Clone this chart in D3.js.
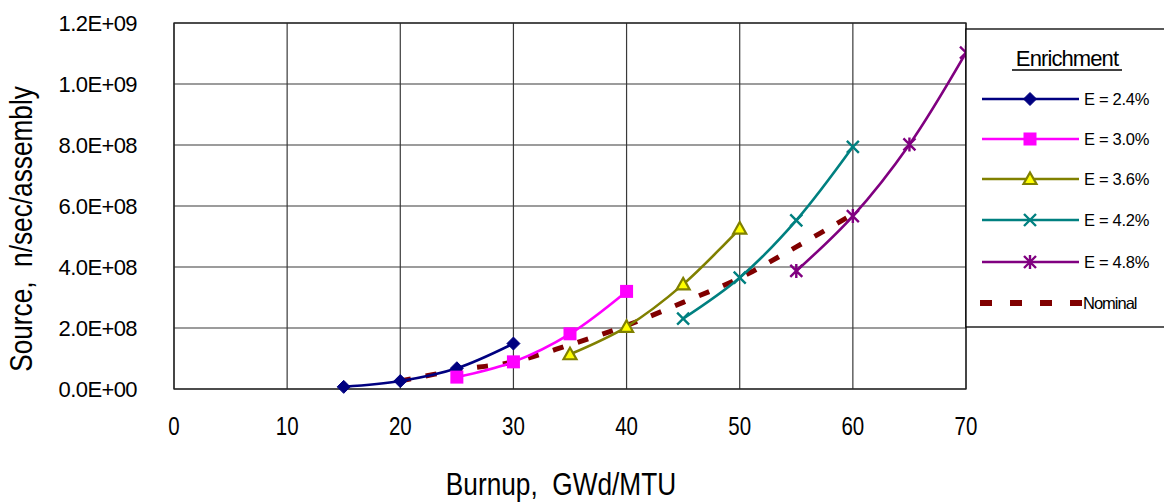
<!DOCTYPE html>
<html>
<head>
<meta charset="utf-8">
<script src="https://cdn.jsdelivr.net/npm/d3@7"></script>
<style>
  html, body { margin: 0; padding: 0; background: #fff; }
  svg { display: block; }
  text { font-family: "Liberation Sans", Arial, sans-serif; }
</style>
</head>
<body>
<svg id="chart" width="1164" height="502"></svg>
<script>
// Burnup (GWd/MTU) for each enrichment series
const burnup24 = [15, 20, 25, 30];
const burnup30 = [25, 30, 35, 40];
const burnup36 = [35, 40, 45, 50];
const burnup42 = [45, 50, 55, 60];
const burnup48 = [55, 60, 65, 70];
const burnupNominal = [20, 25, 30, 35, 40, 45, 50, 55, 60];

// Neutron source (n/sec/assembly)
const source24 = [7.0e6, 2.6e7, 6.8e7, 1.49e8];
const source30 = [3.9e7, 8.9e7, 1.81e8, 3.20e8];
const source36 = [1.14e8, 2.04e8, 3.43e8, 5.26e8];
const source42 = [2.31e8, 3.65e8, 5.53e8, 7.94e8];
const source48 = [3.87e8, 5.67e8, 8.02e8, 1.103e9];
const sourceNominal = [2.6e7, 6.2e7, 8.9e7, 1.45e8, 2.08e8, 2.84e8, 3.64e8, 4.66e8, 5.73e8];

const seriesNames = ["E = 2.4%", "E = 3.0%", "E = 3.6%", "E = 4.2%", "E = 4.8%", "Nominal"];
const xTicks = [0, 10, 20, 30, 40, 50, 60, 70];
const yTicks = [0, 2e8, 4e8, 6e8, 8e8, 1e9, 1.2e9];
const yTickLabels = ["0.0E+00", "2.0E+08", "4.0E+08", "6.0E+08", "8.0E+08", "1.0E+09", "1.2E+09"];

const series = [
  { name: seriesNames[0], xs: burnup24, ys: source24, color: "#000080", marker: "diamond" },
  { name: seriesNames[1], xs: burnup30, ys: source30, color: "#FF00FF", marker: "square" },
  { name: seriesNames[2], xs: burnup36, ys: source36, color: "#808000", marker: "triangle" },
  { name: seriesNames[3], xs: burnup42, ys: source42, color: "#008080", marker: "cross" },
  { name: seriesNames[4], xs: burnup48, ys: source48, color: "#800080", marker: "star" }
];
const nominal = { name: seriesNames[5], xs: burnupNominal, ys: sourceNominal, color: "#800000" };

const NARROW = 0.82; // horizontal squeeze giving a condensed face

const svg = d3.select("#chart");
const plot = { left: 174, right: 966, top: 23, bottom: 389 };

const x = d3.scaleLinear().domain([0, 70]).range([plot.left, plot.right]);
const y = d3.scaleLinear().domain([0, 1.2e9]).range([plot.bottom, plot.top]);

svg.append("defs").append("clipPath").attr("id", "plotClip")
  .append("rect")
  .attr("x", plot.left).attr("y", plot.top - 10)
  .attr("width", plot.right - plot.left).attr("height", plot.bottom - plot.top + 20);

// Gridlines
const grid = svg.append("g");
grid.selectAll("line.v").data(xTicks).join("line")
  .attr("x1", d => x(d)).attr("x2", d => x(d))
  .attr("y1", plot.top).attr("y2", plot.bottom)
  .attr("stroke", "#3a3a3a").attr("stroke-width", 1.2);
grid.selectAll("line.h").data(yTicks).join("line")
  .attr("x1", plot.left).attr("x2", plot.right)
  .attr("y1", d => y(d)).attr("y2", d => y(d))
  .attr("stroke", "#3a3a3a").attr("stroke-width", 1.2);
svg.append("rect")
  .attr("x", plot.left).attr("y", plot.top)
  .attr("width", plot.right - plot.left).attr("height", plot.bottom - plot.top)
  .attr("fill", "none").attr("stroke", "#222").attr("stroke-width", 1.3);

// Y axis labels (no tick marks)
const yAxis = d3.axisLeft(y).tickValues(yTicks)
  .tickFormat((d, i) => yTickLabels[i]).tickSize(0).tickPadding(0);
const gy = svg.append("g").attr("transform", `translate(137,0)`).call(yAxis);
gy.select(".domain").remove();
gy.selectAll("text").attr("font-size", 22).attr("font-family", null)
  .attr("letter-spacing", "-0.6px").attr("fill", "#000").attr("dy", "0.36em");

// X axis labels, condensed
const xAxis = d3.axisBottom(x).tickValues(xTicks).tickFormat(d3.format("d")).tickSize(0).tickPadding(0);
const gx = svg.append("g").call(xAxis);
gx.select(".domain").remove();
gx.selectAll(".tick").attr("transform", d => `translate(${x(d)},435) scale(${NARROW},1)`);
gx.selectAll("text").attr("font-size", 25).attr("font-family", null)
  .attr("fill", "#000").attr("y", 0).attr("dy", null);

// Axis titles
svg.append("g").attr("transform", `translate(561,495) scale(${NARROW},1)`)
  .append("text").attr("text-anchor", "middle")
  .attr("font-size", 32).attr("fill", "#000")
  .attr("xml:space", "preserve")
  .text("Burnup,  GWd/MTU");
svg.append("g").attr("transform", `translate(32,229) rotate(-90) scale(${NARROW},1)`)
  .append("text").attr("text-anchor", "middle")
  .attr("font-size", 32).attr("fill", "#000")
  .attr("xml:space", "preserve")
  .text("Source,  n/sec/assembly");

// Marker drawing
function drawMarker(g, type, color, cx, cy) {
  if (type === "diamond") {
    g.append("path").attr("d", `M${cx},${cy - 6.5}L${cx + 6.5},${cy}L${cx},${cy + 6.5}L${cx - 6.5},${cy}Z`)
      .attr("fill", color).attr("stroke", color).attr("stroke-width", 1);
  } else if (type === "square") {
    g.append("rect").attr("x", cx - 6.5).attr("y", cy - 6.5).attr("width", 13).attr("height", 13)
      .attr("fill", color);
  } else if (type === "triangle") {
    g.append("path").attr("d", `M${cx},${cy - 6.5}L${cx + 6.5},${cy + 5}L${cx - 6.5},${cy + 5}Z`)
      .attr("fill", "#FFFF00").attr("stroke", color).attr("stroke-width", 2.2).attr("stroke-linejoin", "miter");
  } else if (type === "cross") {
    g.append("path").attr("d", `M${cx - 6},${cy - 6}L${cx + 6},${cy + 6}M${cx - 6},${cy + 6}L${cx + 6},${cy - 6}`)
      .attr("stroke", color).attr("stroke-width", 2.4).attr("fill", "none");
  } else if (type === "star") {
    g.append("path").attr("d", `M${cx - 6},${cy - 6}L${cx + 6},${cy + 6}M${cx - 6},${cy + 6}L${cx + 6},${cy - 6}M${cx},${cy - 7}L${cx},${cy + 7}`)
      .attr("stroke", color).attr("stroke-width", 2.4).attr("fill", "none");
  }
}

const curve = d3.curveCatmullRom.alpha(0.5);
const lineGen = d3.line().x(d => x(d[0])).y(d => y(d[1])).curve(curve);

const plotLayer = svg.append("g").attr("clip-path", "url(#plotClip)");

// Nominal curve (dashed)
plotLayer.append("path")
  .attr("d", lineGen(nominal.xs.map((v, i) => [v, nominal.ys[i]])))
  .attr("fill", "none").attr("stroke", nominal.color).attr("stroke-width", 5)
  .attr("stroke-dasharray", "11,15");

// Enrichment series
series.forEach(s => {
  const pts = s.xs.map((v, i) => [v, s.ys[i]]);
  plotLayer.append("path").attr("d", lineGen(pts))
    .attr("fill", "none").attr("stroke", s.color).attr("stroke-width", 2.6);
  const mg = plotLayer.append("g");
  pts.forEach(p => drawMarker(mg, s.marker, s.color, x(p[0]), y(p[1])));
});

// Legend
const legend = svg.append("g");
legend.append("rect").attr("x", 966).attr("y", 29).attr("width", 240).attr("height", 298)
  .attr("fill", "#fff").attr("stroke", "#000").attr("stroke-width", 1.3);
legend.append("text")
  .attr("x", 1067).attr("y", 66).attr("text-anchor", "middle")
  .attr("font-size", 22).attr("letter-spacing", "-0.9px").attr("fill", "#000")
  .text("Enrichment");
legend.append("line").attr("x1", 1012).attr("x2", 1122).attr("y1", 70).attr("y2", 70)
  .attr("stroke", "#000").attr("stroke-width", 1.3);

const rowY = [99, 139, 179, 220, 262, 303];
series.forEach((s, i) => {
  const yy = rowY[i];
  legend.append("line").attr("x1", 982).attr("x2", 1079).attr("y1", yy).attr("y2", yy)
    .attr("stroke", s.color).attr("stroke-width", 2.6);
  drawMarker(legend, s.marker, s.color, 1030, yy);
  legend.append("text").attr("x", 1084).attr("y", yy + 6)
    .attr("font-size", 16.5).attr("letter-spacing", "-0.3px").attr("fill", "#000")
    .text(s.name);
});
legend.append("line").attr("x1", 980).attr("x2", 1082).attr("y1", rowY[5]).attr("y2", rowY[5])
  .attr("stroke", nominal.color).attr("stroke-width", 6).attr("stroke-dasharray", "12,18");
legend.append("text").attr("x", 1083).attr("y", rowY[5] + 6)
  .attr("font-size", 16.5).attr("letter-spacing", "-1px").attr("fill", "#000")
  .text(nominal.name);
</script>
</body>
</html>
